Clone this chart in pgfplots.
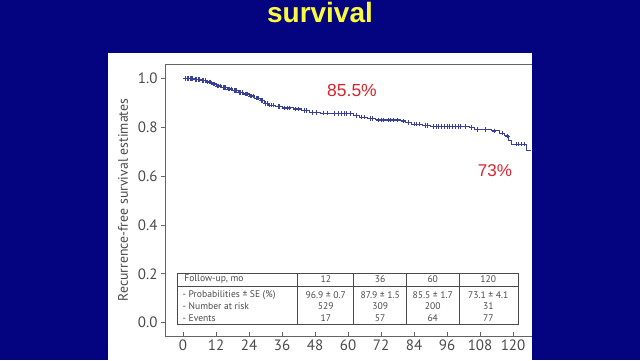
\documentclass[border=0pt]{standalone}
\usepackage{pgfplots}
\pgfplotsset{compat=1.18}
\usepackage{fontspec}
\setmainfont{PT Sans}
\newfontfamily\arialf{Liberation Sans}
\definecolor{bgblue}{RGB}{4,4,128}
\definecolor{ttlyellow}{RGB}{250,250,60}
\definecolor{annred}{RGB}{215,35,45}
\definecolor{kmblue}{RGB}{55,65,155}
\definecolor{axgray}{RGB}{100,100,100}
\definecolor{txtgray}{RGB}{75,75,75}
\pgfplotstableread{
t S
0 1.000
4 0.996
6.5 0.991
8.5 0.985
10.5 0.977
12 0.969
14 0.963
16 0.957
18 0.950
20 0.943
22 0.936
24 0.928
26 0.919
28 0.909
29.5 0.898
31 0.890
33.5 0.884
36 0.879
40 0.875
43 0.868
46 0.861
50 0.858
54 0.855
62 0.848
64 0.841
67 0.835
70 0.830
79 0.826
81 0.819
83 0.813
87 0.806
90 0.803
104 0.799
106 0.791
112 0.785
115 0.776
117 0.764
118.5 0.746
119.5 0.731
125 0.706
126.5 0.706
}\kmsteps
\pgfplotstableread{
t S
1 1
1.5 1
2 1
2.5 1
3 1
3.5 1
4.5 0.996
5 0.996
5.5 0.996
6 0.996
7 0.991
7.5 0.991
8 0.991
9 0.985
9.5 0.985
10 0.985
11 0.977
11.5 0.977
12.5 0.969
13 0.969
13.5 0.969
14.5 0.963
15 0.963
15.5 0.963
16.5 0.957
17 0.957
17.5 0.957
18.5 0.950
19 0.950
19.5 0.950
20.5 0.943
21 0.943
21.5 0.943
22.5 0.936
23 0.936
23.5 0.936
24.5 0.928
25 0.928
25.5 0.928
26.5 0.919
27 0.919
27.5 0.919
28.5 0.909
29 0.909
30 0.898
30.5 0.898
31.5 0.890
32 0.890
33 0.890
34.5 0.884
35 0.884
37 0.879
38 0.879
38.5 0.879
41 0.875
42 0.875
44 0.868
45 0.868
47 0.861
48.5 0.861
51 0.858
52.5 0.858
55 0.855
56.5 0.855
57.5 0.855
58.5 0.855
59.5 0.855
61 0.855
63 0.848
65 0.841
66 0.841
68 0.835
69 0.835
71 0.830
72 0.830
73 0.830
74.5 0.830
75.5 0.830
76.5 0.830
78 0.830
80 0.826
82 0.819
84 0.813
85 0.813
86 0.813
88 0.806
89 0.806
91 0.803
92 0.803
93 0.803
94 0.803
95 0.803
96 0.803
97 0.803
98 0.803
99 0.803
100 0.803
101 0.803
102.5 0.803
105 0.799
107 0.791
110 0.791
113 0.785
116 0.776
118 0.764
121 0.731
122 0.731
123 0.731
124 0.731
}\kmcens
\begin{document}
\begin{tikzpicture}
\useasboundingbox (0pt,0pt) rectangle (640pt,360pt);
\fill[bgblue] (0pt,0pt) rectangle (640pt,360pt);
\fill[white] (107.7pt,0pt) rectangle (532pt,307pt);
\node[anchor=base, text=ttlyellow, font=\arialf\bfseries\fontsize{28}{30}\selectfont] at (320pt,338pt) {survival};
\begin{axis}[
  at={(165pt,24pt)}, anchor=south west,
  scale only axis, width=375pt, height=272pt,
  xmin=-6.55, xmax=129.8, ymin=-0.0544, ymax=1.0585,
  clip=false,
  axis line style={axgray, line width=0.9pt},
  xtick={0,12,...,120},
  ytick={0,0.2,0.4,0.6,0.8,1.0},
  yticklabel style={/pgf/number format/.cd, fixed, fixed zerofill, precision=1},
  xtick pos=bottom, ytick pos=left,
  xtick align=inside, ytick align=outside,
  major tick length=4pt,
  tick style={axgray, line width=0.8pt},
  ticklabel style={text=txtgray, font=\fontsize{15}{15}\selectfont},
  /pgf/number format/assume math mode=true,
  ylabel={Recurrence-free survival estimates},
  ylabel style={text=txtgray, font=\fontsize{13.8}{14}\selectfont, xshift=0pt, yshift=3pt},
]
\addplot[const plot, kmblue, line width=1pt] table[x=t, y=S] {\kmsteps};
\addplot[only marks, mark=+, mark size=2.3pt, kmblue, mark options={line width=0.6pt}] table[x=t, y=S] {\kmcens};
% risk table
\draw[txtgray, line width=0.7pt] (axis cs:-1.93,0.2034) rectangle (axis cs:121.8,-0.0053);
\draw[txtgray, line width=0.7pt] (axis cs:-1.93,0.150) -- (axis cs:121.8,0.150);
\draw[txtgray, line width=0.7pt] (axis cs:41.7,0.2034) -- (axis cs:41.7,-0.0053);
\draw[txtgray, line width=0.7pt] (axis cs:62.1,0.2034) -- (axis cs:62.1,-0.0053);
\draw[txtgray, line width=0.7pt] (axis cs:81.3,0.2034) -- (axis cs:81.3,-0.0053);
\draw[txtgray, line width=0.7pt] (axis cs:100.3,0.2034) -- (axis cs:100.3,-0.0053);
\begin{scope}[every node/.style={text=txtgray, font=\fontsize{9.6}{10}\selectfont, inner sep=0pt}]
\node[anchor=west] at (axis cs:0.4,0.179) {Follow-up, mo};
\node[anchor=west] at (axis cs:-0.2,0.113) {- Probabilities ± SE (\%)};
\node[anchor=west] at (axis cs:-0.2,0.067) {- Number at risk};
\node[anchor=west] at (axis cs:-0.2,0.020) {- Events};
\node at (axis cs:51.9,0.179) {12};
\node at (axis cs:71.7,0.179) {36};
\node at (axis cs:90.8,0.179) {60};
\node at (axis cs:111,0.179) {120};
\node at (axis cs:51.9,0.113) {96.9 ± 0.7};
\node at (axis cs:71.7,0.113) {87.9 ± 1.5};
\node at (axis cs:90.8,0.113) {85.5 ± 1.7};
\node at (axis cs:111,0.113) {73.1 ± 4.1};
\node at (axis cs:51.9,0.067) {529};
\node at (axis cs:71.7,0.067) {309};
\node at (axis cs:90.8,0.067) {200};
\node at (axis cs:111,0.067) {31};
\node at (axis cs:51.9,0.020) {17};
\node at (axis cs:71.7,0.020) {57};
\node at (axis cs:90.8,0.020) {64};
\node at (axis cs:111,0.020) {77};
\end{scope}
\end{axis}
\fill[bgblue] (532pt,0pt) rectangle (640pt,360pt);
\node[anchor=base, text=annred, font=\arialf\fontsize{17.5}{18}\selectfont] at (352pt,263.3pt) {85.5\%};
\node[anchor=base, text=annred, font=\arialf\fontsize{17}{18}\selectfont] at (495pt,183.3pt) {73\%};
\end{tikzpicture}
\end{document}
